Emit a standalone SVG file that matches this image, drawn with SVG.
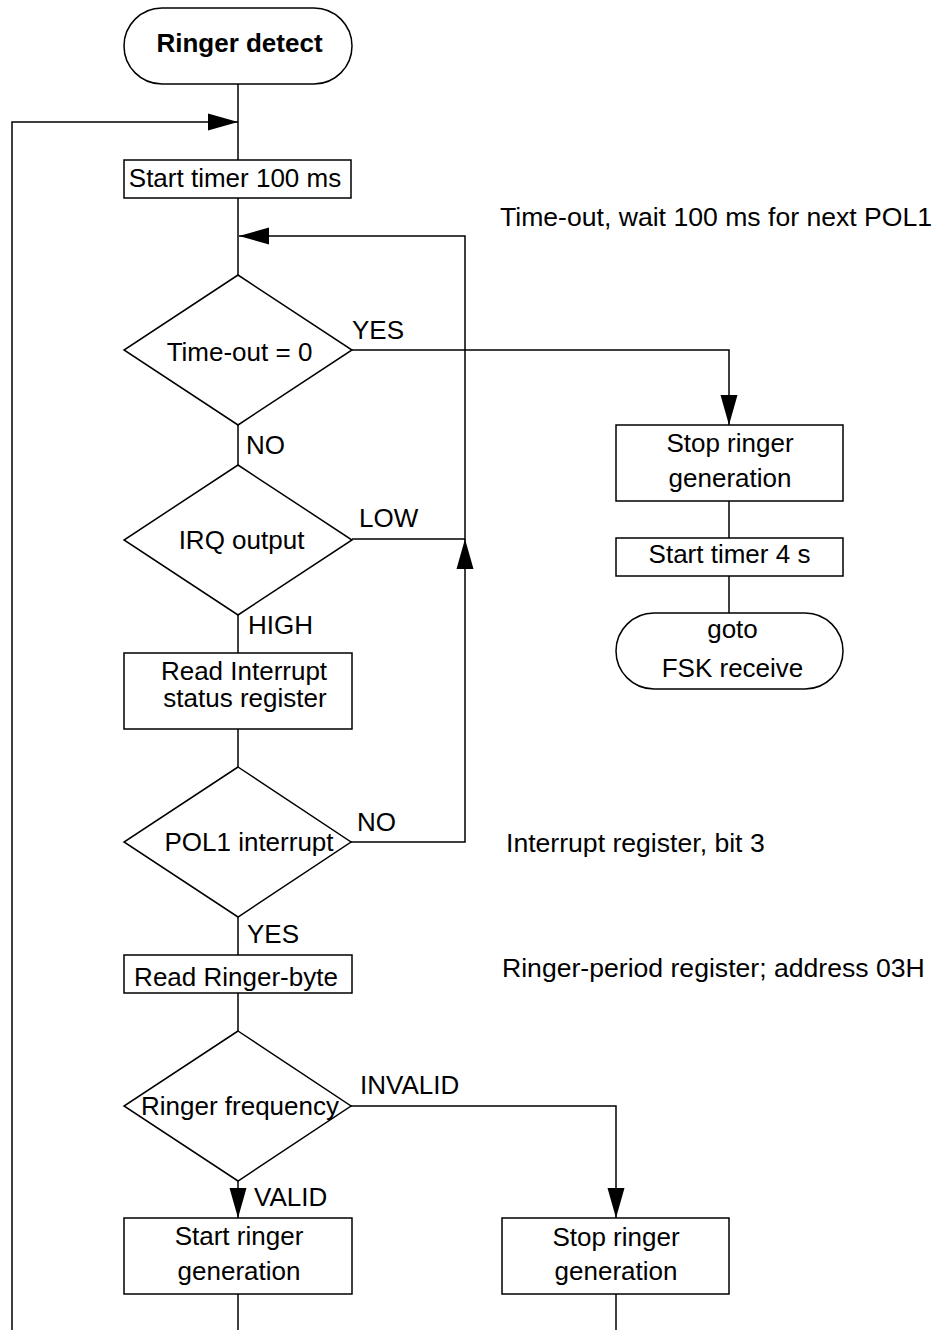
<svg xmlns="http://www.w3.org/2000/svg" width="936" height="1330" viewBox="0 0 936 1330">
  <style>
    .shape { fill: #ffffff; stroke: #000000; stroke-width: 1.5; }
    .wire { fill: none; stroke: #000000; stroke-width: 1.5; }
    text { font-family: "Liberation Sans", Arial, Helvetica, sans-serif; font-size: 26px; fill: #000000; }
    .c { text-anchor: middle; }
    .b { font-weight: bold; }
    .note { font-size: 26.6px; }
  </style>
  <defs>
    <marker id="arrow" markerUnits="userSpaceOnUse" markerWidth="30" markerHeight="17" refX="30" refY="8.5" orient="auto" overflow="visible">
      <path d="M0,0 L30,8.5 L0,17 Z" fill="#000000"/>
    </marker>
  </defs>
  <rect width="936" height="1330" fill="#ffffff"/>

  <!-- connectors -->
  <g id="connectors">
    <path class="wire" d="M12,1330 V122 H238" marker-end="url(#arrow)"/>
    <path class="wire" d="M238,84 V160"/>
    <path class="wire" d="M238,198 V275"/>
    <path class="wire" d="M238,425 V465"/>
    <path class="wire" d="M238,615 V653"/>
    <path class="wire" d="M238,729 V767"/>
    <path class="wire" d="M238,917 V955"/>
    <path class="wire" d="M238,993 V1031"/>
    <path class="wire" d="M238,1181 V1218" marker-end="url(#arrow)"/>
    <path class="wire" d="M238,1294 V1330"/>
    <path class="wire" d="M352,350 H729 V425" marker-end="url(#arrow)"/>
    <path class="wire" d="M729,501 V538"/>
    <path class="wire" d="M729,576 V613"/>
    <path class="wire" d="M351,842 H465 V539" marker-end="url(#arrow)"/>
    <path class="wire" d="M352,539 H465 V236 H239" marker-end="url(#arrow)"/>
    <path class="wire" d="M351,1106 H616 V1218" marker-end="url(#arrow)"/>
    <path class="wire" d="M616,1294 V1330"/>
  </g>

  <!-- branch labels -->
  <g id="labels">
    <text x="352" y="339">YES</text>
    <text x="246" y="454">NO</text>
    <text x="359" y="527">LOW</text>
    <text x="248" y="634">HIGH</text>
    <text x="357" y="831">NO</text>
    <text x="247" y="943">YES</text>
    <text x="360" y="1094">INVALID</text>
    <text x="254" y="1206">VALID</text>
  </g>

  <!-- side notes -->
  <g id="notes">
    <text class="note" x="500" y="226">Time-out, wait 100 ms for next POL1</text>
    <text class="note" x="506" y="852">Interrupt register, bit 3</text>
    <text class="note" x="502" y="977">Ringer-period register; address 03H</text>
  </g>

  <g id="start">
    <rect class="shape" x="124" y="8" width="228" height="76" rx="38" ry="38"/>
    <text class="c b" x="239.5" y="52">Ringer detect</text>
  </g>

  <g id="timer100">
    <rect class="shape" x="124" y="160" width="227" height="38"/>
    <text class="c" x="235" y="187">Start timer 100 ms</text>
  </g>

  <g id="timeout">
    <polygon class="shape" points="238,275 352,350 238,425 124,350"/>
    <text class="c" x="239.5" y="361">Time-out = 0</text>
  </g>

  <g id="irq">
    <polygon class="shape" points="238,465 352,540 238,615 124,540"/>
    <text class="c" x="241.5" y="549">IRQ output</text>
  </g>

  <g id="readirq">
    <rect class="shape" x="124" y="653" width="228" height="76"/>
    <text class="c" x="244" y="680">Read Interrupt</text>
    <text class="c" x="245" y="707">status register</text>
  </g>

  <g id="pol1">
    <polygon class="shape" points="238,767 351,842 238,917 124,842"/>
    <text class="c" x="249" y="851">POL1 interrupt</text>
  </g>

  <g id="readbyte">
    <rect class="shape" x="124" y="955" width="228" height="38"/>
    <text class="c" x="236" y="986">Read Ringer-byte</text>
  </g>

  <g id="freq">
    <polygon class="shape" points="238,1031 351,1106 238,1181 124,1106"/>
    <text class="c" x="240" y="1115">Ringer frequency</text>
  </g>

  <g id="startringer">
    <rect class="shape" x="124" y="1218" width="228" height="76"/>
    <text class="c" x="239" y="1245">Start ringer</text>
    <text class="c" x="239" y="1280">generation</text>
  </g>

  <g id="stopringer2">
    <rect class="shape" x="502" y="1218" width="227" height="76"/>
    <text class="c" x="616" y="1246">Stop ringer</text>
    <text class="c" x="616" y="1280">generation</text>
  </g>

  <g id="stopringer1">
    <rect class="shape" x="616" y="425" width="227" height="76"/>
    <text class="c" x="730" y="452">Stop ringer</text>
    <text class="c" x="730" y="487">generation</text>
  </g>

  <g id="timer4">
    <rect class="shape" x="616" y="538" width="227" height="38"/>
    <text class="c" x="729.5" y="563">Start timer 4 s</text>
  </g>

  <g id="gotofsk">
    <rect class="shape" x="616" y="613" width="227" height="76" rx="38" ry="38"/>
    <text class="c" x="732.5" y="638">goto</text>
    <text class="c" x="732.5" y="677">FSK receive</text>
  </g>
</svg>
